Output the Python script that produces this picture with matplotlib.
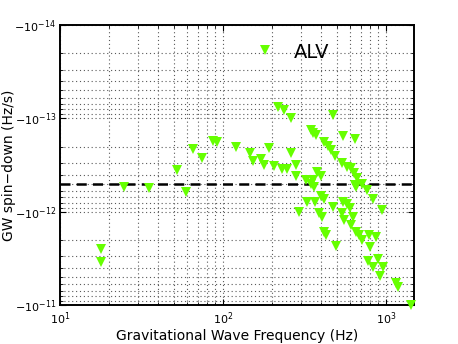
import math
import matplotlib
matplotlib.use('Agg')
import matplotlib.pyplot as plt
from matplotlib.ticker import FuncFormatter, LogLocator, NullFormatter, FixedLocator

# ── Data ───────────────────────────────────────────────
freq = [17.8, 17.8, 24.7, 35.2, 52.2, 59.3, 65.5, 74.3, 86.8, 91.9,
        120.2, 146.4, 152.8, 171, 178.4, 181, 191.5, 205.5, 217.5, 236.8,
        261.4, 230, 247, 261.4, 280.5, 280.5, 292.5, 323, 327.5, 346.7,
        356.6, 372, 346.7, 361.6, 366.7, 377.3, 399, 388, 399, 416.6,
        404.9, 416.6, 428.5, 416.6, 440.6, 459.8, 486.5, 473, 473, 493.5,
        544.8, 645.3, 537, 576.5, 609.8, 636.2, 544.8, 576.5, 537, 601.5,
        552.5, 627.5, 609.8, 654.6, 682.7, 712.4, 645.3, 712.4, 764.6, 832,
        945, 786.5, 868, 798, 775.5, 832, 893, 959, 919, 1151,
        1185, 1423, 663.8, 654.6, 356.6]
spindown = [2.51e-12, 3.46e-12, 5.45e-13, 5.58e-13, 3.58e-13, 6.15e-13, 2.13e-13, 2.66e-13, 1.75e-13, 1.79e-13,
            2.03e-13, 2.35e-13, 2.87e-13, 2.73e-13, 3.16e-13, 1.85e-14, 2.08e-13, 3.24e-13, 7.56e-14, 8.14e-14,
            9.92e-14, 3.49e-13, 3.49e-13, 2.35e-13, 3.16e-13, 4.15e-13, 1.008e-12, 4.58e-13, 7.88e-13, 1.33e-13,
            1.44e-13, 1.51e-13, 5.05e-13, 5.45e-13, 7.88e-13, 3.76e-13, 4.15e-13, 1.03e-12, 6.8e-13, 7.32e-13,
            1.14e-12, 1.65e-12, 1.78e-12, 1.79e-13, 1.98e-13, 2.18e-13, 2.53e-13, 9.2e-14, 8.91e-13, 2.33e-12,
            1.55e-13, 1.67e-13, 3.01e-13, 3.32e-13, 3.40e-13, 3.85e-13, 7.88e-13, 8.28e-13, 1.03e-12, 9.14e-13,
            1.23e-12, 1.14e-12, 1.39e-12, 1.65e-12, 1.78e-12, 2.01e-12, 5.18e-13, 5.05e-13, 5.86e-13, 7.32e-13,
            9.6e-13, 1.78e-12, 1.87e-12, 2.39e-12, 3.38e-12, 3.92e-12, 3.21e-12, 3.92e-12, 4.89e-12, 5.81e-12,
            6.41e-12, 1.0e-11, 4.36e-13, 5.45e-13, 4.58e-13]
limit = 5.0e-13
y_decades = [1e-14, 1e-13, 1e-12, 1e-11]
x_decades = [10, 100, 1000]

# ── Figure ─────────────────────────────────────────────
fig = plt.figure(figsize=(4.58, 3.44), dpi=100)
ax = fig.add_axes([0.131, 0.113, 0.773, 0.814])

ax.plot(freq, spindown, 'v', color=(0.4, 1.0, 0.0), markersize=7,
        markeredgewidth=0, clip_on=False, zorder=3)
ax.axhline(limit, color='k', linestyle=(0, (4, 2.5)), linewidth=1.8, zorder=2)

ax.set_xscale('log')
ax.set_yscale('log')
ax.set_xlim(10, 1490)
ax.set_ylim(1e-11, 1e-14)

ax.xaxis.set_major_locator(FixedLocator(x_decades))
ax.yaxis.set_major_locator(FixedLocator(y_decades))
ax.yaxis.set_minor_locator(LogLocator(base=10, subs=range(2, 10), numticks=20))
ax.yaxis.set_major_formatter(FuncFormatter(lambda v, p: r'$-10^{%d}$' % round(math.log10(v))))
ax.yaxis.set_minor_formatter(NullFormatter())

ax.grid(True, which='both', linestyle=(0, (1, 2.5)), color='0.35', linewidth=0.8)
ax.tick_params(which='both', direction='in', top=True, right=True, labelsize=8)
ax.tick_params(axis='x', which='major', length=4, pad=4)
ax.tick_params(axis='y', which='major', length=4, pad=3)
ax.tick_params(which='minor', length=2)
for s in ax.spines.values():
    s.set_linewidth(1.4)

ax.text(352, 1.95e-14, 'ALV', fontsize=14, ha='center', va='center')

ax.set_xlabel('Gravitational Wave Frequency (Hz)', fontsize=10)
ax.set_ylabel('GW spin\u2212down (Hz/s)', fontsize=10)
ax.xaxis.set_label_coords(0.5, -0.085)
ax.yaxis.set_label_coords(-0.125, 0.5)

fig.savefig('out.png', dpi=100)
